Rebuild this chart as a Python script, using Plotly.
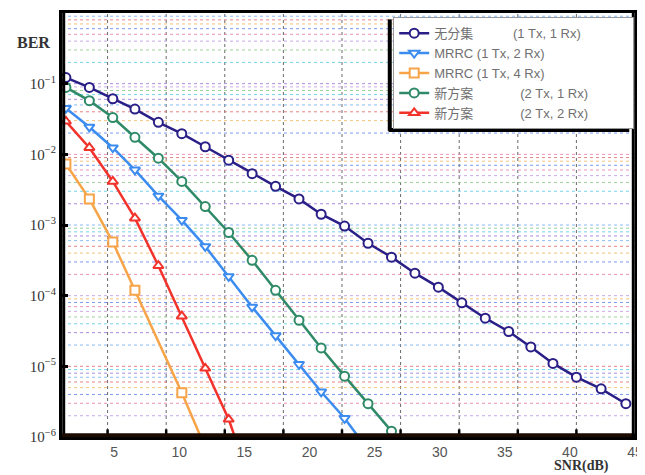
import plotly.graph_objects as go

# ---------------- data ----------------
snr_db = [1.3, 3.1, 4.9, 6.6, 8.4, 10.2, 12.0, 13.8, 15.6, 17.4, 19.2, 20.9, 22.7,
          24.5, 26.3, 28.1, 29.9, 31.7, 33.5, 35.3, 37.0, 38.7, 40.5, 42.4, 44.3]

ber_no_div = [0.122, 0.0885, 0.0612, 0.0437, 0.0284, 0.0196, 0.0128, 0.00828, 0.00532,
              0.00353, 0.00234, 0.00142, 9.66e-4, 5.52e-4, 3.51e-4, 2.08e-4, 1.32e-4,
              7.92e-5, 4.80e-5, 3.11e-5, 1.88e-5, 1.10e-5, 7.03e-6, 4.80e-6, 2.96e-6]
ber_mrrc_1x2 = [0.045, 0.0244, 0.0124, 0.00604, 0.00258, 0.00117, 4.98e-4, 1.87e-4,
                6.93e-5, 2.72e-5, 1.07e-5, 4.36e-6, 1.84e-6, 6.6e-7]
ber_mrrc_1x4 = [0.0073, 0.00234, 5.73e-4, 1.19e-4, None, 4.22e-6, 7.1e-7]
ber_new_2x1 = [0.0885, 0.0575, 0.0331, 0.0174, 0.00881, 0.00413, 0.00182, 7.83e-4,
               3.16e-4, 1.19e-4, 4.49e-5, 1.82e-5, 7.26e-6, 2.96e-6, 1.21e-6]
ber_new_2x2 = [0.0293, 0.0124, 0.00413, 0.00125, 2.65e-4, 5.13e-5, 9.38e-6, 1.78e-6, 2.0e-7]

NB = "\u00a0"
series_names = ["无分集" + NB * 11 + "(1 Tx, 1 Rx)",
                "MRRC (1 Tx, 2 Rx)",
                "MRRC (1 Tx, 4 Rx)",
                "新方案" + NB * 13 + "(2 Tx, 1 Rx)" + NB * 11,
                "新方案" + NB * 13 + "(2 Tx, 2 Rx)" + NB * 11]

x_tick_vals = [5, 10, 15, 20, 25, 30, 35, 40, 45]
x_grid_vals = [4.5, 9, 13.5, 18, 22.5, 27, 31.5, 36, 40.5]
y_tick_vals = [1, 1e-1, 1e-2, 1e-3, 1e-4, 1e-5, 1e-6]
y_tick_text = ["10<sup>0</sup>", "10<sup>−1</sup>", "10<sup>−2</sup>", "10<sup>−3</sup>",
               "10<sup>−4</sup>", "10<sup>−5</sup>", "10<sup>−6</sup>"]

X_MIN, X_MAX = 1, 45

# ---------------- styling ----------------
colors = ["#2a1f86", "#3c8cf0", "#f7a448", "#2f8a68", "#f2332c"]
symbols = ["circle", "triangle-down", "square", "circle", "triangle-up"]
series = [ber_no_div, ber_mrrc_1x2, ber_mrrc_1x4, ber_new_2x1, ber_new_2x2]

grid_palette = ["rgba(230,120,160,0.8)", "rgba(150,110,215,0.8)", "rgba(90,130,230,0.8)",
                "rgba(80,200,225,0.8)", "rgba(240,180,90,0.8)", "rgba(130,200,130,0.8)",
                "rgba(225,100,100,0.8)", "rgba(185,150,225,0.8)", "rgba(110,170,240,0.8)"]

fig = go.Figure()

# coloured dotted horizontal grid (as in the scanned original)
groups = {i: ([], []) for i in range(len(grid_palette))}
for d in range(-6, 0):
    for m in range(1, 10):
        v = m * 10 ** d
        if d == -6 and m == 1:
            continue
        k = (m * 2 + d) % len(grid_palette)
        groups[k][0].extend([X_MIN, X_MAX, None])
        groups[k][1].extend([v, v, None])
for k, (gx, gy) in groups.items():
    fig.add_trace(go.Scatter(x=gx, y=gy, mode="lines", showlegend=False, hoverinfo="skip",
                             line=dict(color=grid_palette[k], width=1, dash="dot")))

for name, ys, c, s in zip(series_names, series, colors, symbols):
    fig.add_trace(go.Scatter(
        x=snr_db[:len(ys)], y=ys, name=name, mode="lines+markers", connectgaps=True,
        line=dict(color=c, width=2.5),
        marker=dict(symbol=s, size=9, color="white", line=dict(color=c, width=2)),
    ))

# vertical dotted grid + inward tick marks on the bottom edge
vshapes = []
for g in x_grid_vals:
    vshapes.append(dict(type="line", xref="x", yref="paper", x0=g, x1=g, y0=0, y1=1,
                        line=dict(color="#6a6a6a", width=1, dash="dot"), layer="below"))
    vshapes.append(dict(type="line", xref="x", yref="paper", x0=g, x1=g, y0=0, y1=0.018,
                        line=dict(color="black", width=2.5), layer="above"))

# page body adds an 8px offset; size/margins compensate so the plot area sits as in the original
fig.update_layout(
    width=637, height=467,
    margin=dict(l=54, r=10, t=5, b=38, autoexpand=False),
    paper_bgcolor="white", plot_bgcolor="white",
    showlegend=True,
    legend=dict(x=0.578, y=0.99, xanchor="left", yanchor="top",
                bgcolor="white", bordercolor="#999999", borderwidth=1,
                font=dict(family="Liberation Sans, Noto Sans CJK SC", size=13, color="#707070"),
                tracegroupgap=0),
    xaxis=dict(range=[X_MIN, X_MAX], tickmode="array", tickvals=x_tick_vals, ticks="",
               showgrid=False, zeroline=False, automargin=False,
               showline=True, linecolor="black", linewidth=3, mirror=True,
               tickfont=dict(family="Liberation Sans, Arial", size=14, color="#555555")),
    yaxis=dict(type="log", range=[-6, 0], tickmode="array", tickvals=y_tick_vals,
               ticktext=y_tick_text, ticks="inside", ticklen=6, tickwidth=2.5, tickcolor="black",
               showgrid=False, zeroline=False, automargin=False,
               showline=True, linecolor="black", linewidth=3, mirror=True,
               tickfont=dict(family="Liberation Serif, Times New Roman", size=15, color="#333333")),
    annotations=[
        dict(text="<b>BER</b>", xref="paper", yref="paper", x=-0.05, y=0.93,
             xanchor="center", yanchor="middle",
             showarrow=False, font=dict(family="Liberation Serif", size=16, color="#333333")),
        dict(text="<b>SNR(dB)</b>", xref="paper", yref="paper", x=0.907, y=-0.068,
             xanchor="center", yanchor="middle",
             showarrow=False, font=dict(family="Liberation Serif", size=14, color="#333333")),
    ],
    shapes=vshapes + [
        dict(type="line", xref="paper", yref="paper", x0=0.003, x1=0.003, y0=0, y1=1,
             line=dict(color="black", width=3), layer="above"),
        dict(type="line", xref="paper", yref="paper", x0=0, x1=1, y0=0.004, y1=0.004,
             line=dict(color="#1a0a00", width=4), layer="above"),
        dict(type="line", xref="paper", yref="paper", x0=0.997, x1=0.997, y0=0, y1=1,
             line=dict(color="black", width=3), layer="above"),
        dict(type="line", xref="paper", yref="paper", x0=0.572, x1=0.572, y0=0.722, y1=0.985,
             line=dict(color="black", width=4)),
        dict(type="line", xref="paper", yref="paper", x0=0.570, x1=0.99, y0=0.724, y1=0.724,
             line=dict(color="black", width=4)),
    ],
)

fig.write_html("out.html")
